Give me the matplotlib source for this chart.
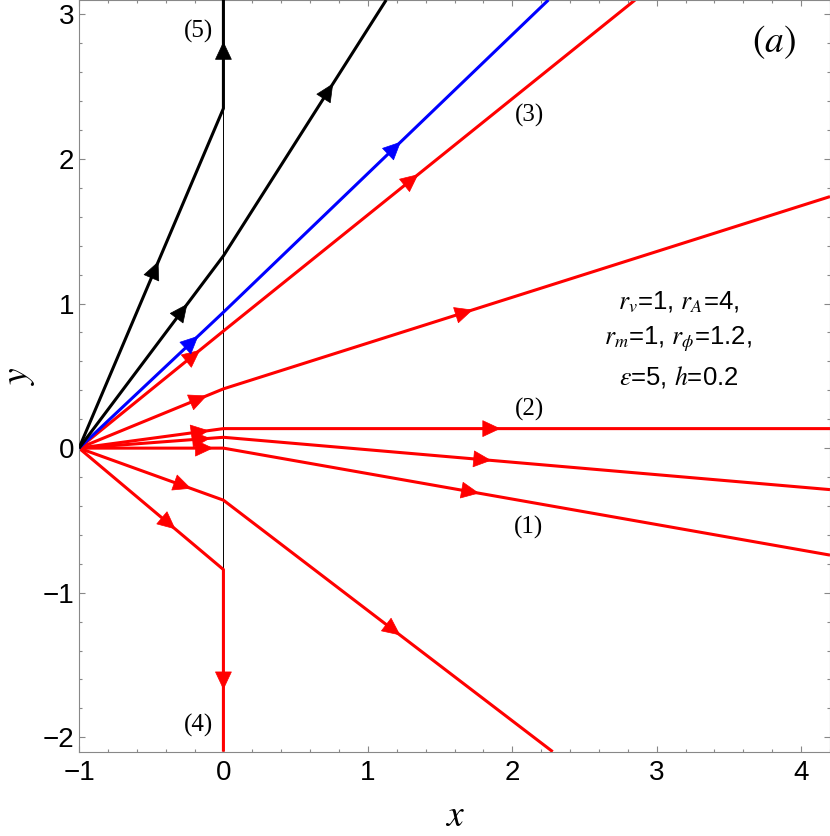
import matplotlib
matplotlib.use("Agg")
import matplotlib.pyplot as plt
import numpy as np

plt.rcParams['mathtext.fontset'] = 'stix'

# trajectories: vertices of each piecewise-linear orbit (start at (-1, 0))
traj_colors = ['red', 'red', 'red', 'red', 'red', 'red', 'red', 'blue', 'black', 'black']
traj_x = [
    [-1, 0, 4.2],    # (1)
    [-1, 0, 4.2],
    [-1, 0, 4.2],    # (2)
    [-1, 0, 4.2],
    [-1, 0, 2.85],   # (3)
    [-1, 0, 2.28],
    [-1, 0, 0],      # (4)
    [-1, 0, 2.25],
    [-1, 0, 1.127],
    [-1, 0, 0],      # (5)
]
traj_y = [
    [0, 0.0, -0.74],
    [0, 0.075, -0.287],
    [0, 0.135, 0.135],
    [0, 0.41, 1.74],
    [0, 0.81, 3.1],
    [0, -0.36, -2.1],
    [0, -0.84, -2.1],
    [0, 0.94, 3.1],
    [0, 1.33, 3.1],
    [0, 2.35, 3.1],
]
# where the arrowheads sit, as fraction along segment 1 and segment 2
arrow_frac = [
    (0.88, 0.41),
    (0.86, 0.43),
    (0.85, 0.445),
    (0.84, 0.40),
    (0.80, 0.46),
    (0.73, 0.52),
    (0.63, 0.62),
    (0.79, 0.53),
    (0.72, 0.65),
    (0.53, 0.55),
]

labels = ['(1)', '(2)', '(3)', '(4)', '(5)']
label_x = [2.11, 2.12, 2.12, -0.17, -0.17]
label_y = [-0.55, 0.27, 2.30, -1.92, 2.88]

param_lines = [r'$r_v$=1, $r_A$=4,', r'$r_m$=1, $r_\phi$=1.2,', r'$\varepsilon$=5, $h$=0.2']

fig = plt.figure(figsize=(8.3, 8.36), dpi=100)
ax = fig.add_axes([79 / 830, 84.3 / 836, 751 / 830, 751.7 / 836])

# sliding segment x=0
ax.plot([0, 0], [-0.84, 2.35], color='black', lw=0.7, zorder=1)

for i in range(len(traj_x)):
    xs = np.array(traj_x[i], dtype=float)
    ys = np.array(traj_y[i], dtype=float)
    c = traj_colors[i]
    ax.plot(xs, ys, color=c, lw=2.2, solid_capstyle='butt', zorder=2 + (i >= 7))
    for s in range(2):
        f = arrow_frac[i][s]
        p0 = np.array([xs[s], ys[s]])
        p1 = np.array([xs[s + 1], ys[s + 1]])
        d = (p1 - p0) / np.hypot(*(p1 - p0))
        cen = p0 + f * (p1 - p0)
        tip = cen + 0.05 * d
        tail = tip - 0.06 * d
        ax.annotate('', xy=tip, xytext=tail,
                    arrowprops=dict(arrowstyle='-|>,head_length=1.11,head_width=0.52',
                                    mutation_scale=11, color=c, lw=0.5,
                                    shrinkA=0, shrinkB=0),
                    zorder=4)

for t, lx, ly in zip(labels, label_x, label_y):
    ax.text(lx, ly, t, fontsize=18, family='Liberation Serif', ha='center', va='center')

ax.text(3.81, 2.81, '$(a)$', fontsize=27, ha='center', va='center')

for k, line in enumerate(param_lines):
    ax.text(3.15, 1.01 - 0.26 * k, line, fontsize=18.5, family='Liberation Sans',
            ha='center', va='center')

ax.set_xlim(-1, 4.2)
ax.set_ylim(-2.1, 3.1)
ax.set_xticks(range(-1, 5))
ax.set_yticks(range(-2, 4))
ax.set_xticks(np.arange(-1, 4.21, 0.2), minor=True)
ax.set_yticks(np.arange(-2, 3.11, 0.2), minor=True)
ax.tick_params(which='both', direction='in', top=True, right=True, color='#888888', width=0.8)
ax.tick_params(which='major', length=4.5, labelsize=20)
ax.tick_params(which='minor', length=2.5)
ax.tick_params(axis='x', pad=6)
ax.tick_params(axis='y', pad=3.5)
for lab in ax.get_xticklabels() + ax.get_yticklabels():
    lab.set_family('Liberation Sans')
for sp in ax.spines.values():
    sp.set_color('#888888')
    sp.set_linewidth(0.8)

ax.text(0.5, -0.086, '$x$', transform=ax.transAxes, fontsize=27, ha='center', va='center')
ax.text(-0.08, 0.5, '$y$', transform=ax.transAxes, fontsize=27, ha='center', va='center',
        rotation=90)

fig.savefig('out.png', dpi=100)
